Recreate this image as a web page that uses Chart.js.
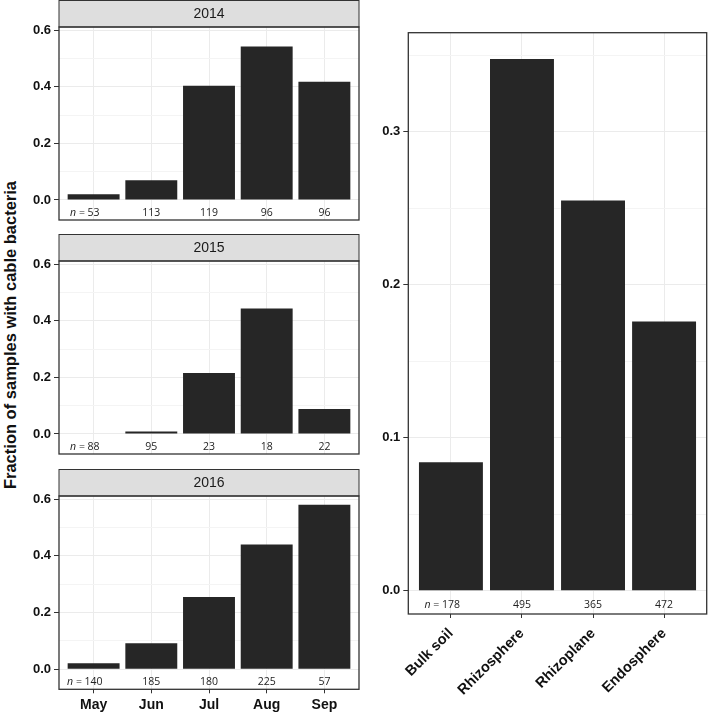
<!DOCTYPE html>
<html>
<head>
<meta charset="utf-8">
<script src="https://cdn.jsdelivr.net/npm/chart.js@4.4.1/dist/chart.umd.min.js"></script>
<style>
  body { margin: 0; background: #fff; width: 709px; height: 713px; position: relative; overflow: hidden; }
  canvas { position: absolute; }
  #ytitle {
    position: absolute; left: 10px; top: 335px;
    transform: translate(-50%, -50%) rotate(-90deg);
    font: bold 16.5px "Liberation Sans", Arial, sans-serif;
    white-space: nowrap; color: #111;
  }
</style>
</head>
<body>
<div id="ytitle">Fraction of samples with cable bacteria</div>
<canvas id="c2014" width="362" height="222" style="left:0;top:0"></canvas>
<canvas id="c2015" width="362" height="222" style="left:0;top:234px"></canvas>
<canvas id="c2016" width="362" height="244" style="left:0;top:469px"></canvas>
<canvas id="cComp" width="349" height="713" style="left:360px;top:0"></canvas>
<script>
// data
const months = ['May', 'Jun', 'Jul', 'Aug', 'Sep'];
const frac2014 = [0.020, 0.070, 0.403, 0.542, 0.417];
const n2014 = [53, 113, 119, 96, 96];
const frac2015 = [0.000, 0.009, 0.215, 0.443, 0.088];
const n2015 = [88, 95, 23, 18, 22];
const frac2016 = [0.021, 0.092, 0.255, 0.440, 0.580];
const n2016 = [140, 185, 180, 225, 57];

const compartments = ['Bulk soil', 'Rhizosphere', 'Rhizoplane', 'Endosphere'];
const fracComp = [0.084, 0.3475, 0.255, 0.176];
const nComp = [178, 495, 365, 472];

const leftTicks = [0, 0.2, 0.4, 0.6];
const leftMinor = [0.1, 0.3, 0.5];
const rightTicks = [0, 0.1, 0.2, 0.3];
const rightMinor = [0.05, 0.15, 0.25, 0.35];

const FONT = '"Liberation Sans", Arial, sans-serif';
const NFONT = '"Open Sans", sans-serif';

// strip on top of a facet + panel border
const panelPlugin = {
  id: 'panel',
  afterDraw(chart, args, opts) {
    const { ctx, chartArea: a } = chart;
    ctx.save();
    ctx.strokeStyle = '#333';
    ctx.lineWidth = 1;
    if (opts.strip) {
      ctx.fillStyle = '#dedede';
      ctx.fillRect(a.left, 0.5, a.right - a.left, a.top - 0.5);
      ctx.strokeRect(a.left, 0.5, a.right - a.left, a.top - 0.5);
      ctx.fillStyle = '#1a1a1a';
      ctx.font = '14px ' + FONT;
      ctx.textAlign = 'center';
      ctx.textBaseline = 'middle';
      ctx.fillText(opts.strip, (a.left + a.right) / 2, a.top / 2 + 1);
    }
    ctx.lineWidth = 1.3;
    ctx.strokeRect(a.left, a.top, a.right - a.left, a.bottom - a.top);
    ctx.restore();
  }
};

// sample size labels inside the panel, below zero
const countPlugin = {
  id: 'counts',
  afterDatasetsDraw(chart, args, opts) {
    const { ctx, chartArea: a, scales } = chart;
    const y = (scales.y.getPixelForValue(0) + a.bottom) / 2 + 3;
    ctx.save();
    ctx.fillStyle = '#222';
    ctx.textBaseline = 'middle';
    opts.n.forEach((num, i) => {
      const x = scales.x.getPixelForValue(i);
      ctx.font = '10.5px ' + NFONT;
      const s = String(num);
      const w = ctx.measureText(s).width;
      ctx.textAlign = 'center';
      ctx.fillText(s, x, y);
      if (i === 0) {
        const eq = '= ';
        const wEq = ctx.measureText(eq).width;
        ctx.textAlign = 'left';
        ctx.fillText(eq, x - w / 2 - wEq, y);
        ctx.font = 'italic 10.5px ' + NFONT;
        const wN = ctx.measureText('n ').width;
        ctx.fillText('n', x - w / 2 - wEq - wN, y);
      }
    });
    ctx.restore();
  }
};

function yScale(min, max, major, minor, width, digits) {
  const all = major.concat(minor);
  return {
    type: 'linear',
    min: min,
    max: max,
    border: { display: false },
    afterBuildTicks: s => {
      s.ticks = all.map(v => ({ value: v, isMinor: minor.includes(v) }));
    },
    afterFit: s => {
      s.width = width;
      s.paddingTop = 0;
      s.paddingBottom = 0;
    },
    grid: {
      color: c => (c.tick && c.tick.isMinor) ? '#f4f4f4' : '#ebebeb',
      lineWidth: 1,
      tickLength: 5,
      tickColor: c => (c.tick && c.tick.isMinor) ? 'rgba(0,0,0,0)' : '#333',
    },
    ticks: {
      autoSkip: false,
      padding: 3,
      color: '#111',
      font: { family: FONT, size: 13, weight: 'bold' },
      callback: (v, i, t) => t[i].isMinor ? '' : v.toFixed(digits),
    },
  };
}

function xScale(labels, showLabels, height, fontSize, rotation, pad) {
  return {
    type: 'linear',
    offset: false,
    min: -0.6,
    max: labels.length - 0.4,
    border: { display: false },
    afterBuildTicks: s => {
      s.ticks = labels.map((l, i) => ({ value: i }));
    },
    afterFit: s => {
      s.height = height;
      s.paddingLeft = 0;
      s.paddingRight = 0;
    },
    grid: {
      offset: false,
      color: '#ebebeb',
      lineWidth: 1,
      drawTicks: showLabels,
      tickLength: 4,
      tickColor: '#333',
    },
    ticks: {
      display: showLabels,
      autoSkip: false,
      padding: pad,
      minRotation: rotation,
      maxRotation: rotation,
      color: '#111',
      font: { family: FONT, size: fontSize, weight: 'bold' },
      callback: v => labels[v],
    },
  };
}

function barChart(id, labels, values, counts, strip, pad, xOpts, yOpts) {
  return new Chart(document.getElementById(id), {
    type: 'bar',
    data: {
      datasets: [{
        data: values.map((v, i) => ({ x: i, y: v })),
        backgroundColor: '#262626',
        borderWidth: 0,
        barPercentage: 0.9,
        categoryPercentage: 1,
      }],
    },
    options: {
      responsive: false,
      animation: false,
      events: [],
      layout: { padding: pad },
      scales: { x: xOpts, y: yOpts },
      plugins: {
        legend: { display: false },
        tooltip: { enabled: false },
        panel: { strip: strip },
        counts: { n: counts },
      },
    },
    plugins: [panelPlugin, countPlugin],
  });
}

const lMin = -0.0706, lMax = 0.6106;

barChart('c2014', months, frac2014, n2014, '2014',
  { top: 27, left: 0, right: 3, bottom: 2 },
  xScale(months, false, 0, 14, 0, 2),
  yScale(lMin, lMax, leftTicks, leftMinor, 59, 1));

barChart('c2015', months, frac2015, n2015, '2015',
  { top: 27, left: 0, right: 3, bottom: 2 },
  xScale(months, false, 0, 14, 0, 2),
  yScale(lMin, lMax, leftTicks, leftMinor, 59, 1));

barChart('c2016', months, frac2016, n2016, '2016',
  { top: 27, left: 0, right: 3, bottom: 0 },
  xScale(months, true, 23.7, 14, 0, 3),
  yScale(lMin, lMax, leftTicks, leftMinor, 59, 1));

barChart('cComp', compartments, fracComp, nComp, null,
  { top: 32.7, left: 0, right: 2.3, bottom: 0 },
  xScale(compartments, true, 99, 14.5, 45, 7),
  yScale(-0.0152, 0.3647, rightTicks, rightMinor, 48.3, 1));
</script>
</body>
</html>
